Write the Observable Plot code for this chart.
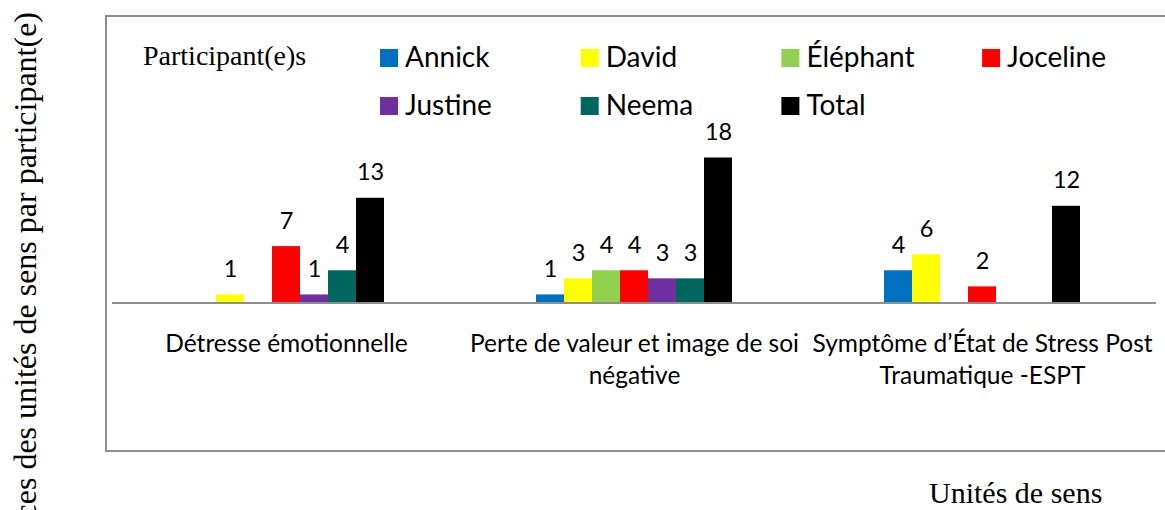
<!DOCTYPE html>
<html>
<head>
<meta charset="utf-8">
<script src="https://cdn.jsdelivr.net/npm/d3@7"></script>
<script src="https://cdn.jsdelivr.net/npm/@observablehq/plot@0.6"></script>
<style>
  html, body { margin: 0; padding: 0; background: #fff; overflow: hidden; }
  #wrap { position: relative; width: 1165px; height: 510px; overflow: hidden; background: #fff; }
  #frame { position: absolute; left: 105px; top: 15px; width: 1100px; height: 433px; border: 2px solid #8e8e8e; }
  #wrap svg { position: absolute; left: 0; top: 0; }
</style>
</head>
<body>
<div id="wrap"><div id="frame"></div></div>
<script>
const categories = [
  "Détresse émotionnelle",
  "Perte de valeur et image de soi négative",
  "Symptôme d’État de Stress Post Traumatique -ESPT"
];
const categoryTickLabels = [
  "Détresse émotionnelle",
  "Perte de valeur et image de soi\nnégative",
  "Symptôme d’État de Stress Post\nTraumatique -ESPT"
];
const participants = ["Annick", "David", "Éléphant", "Joceline", "Justine", "Neema", "Total"];
const participantColors = ["#0070C0", "#FFFF00", "#92D050", "#FF0000", "#7030A0", "#00675F", "#000000"];
const detresseValues = [0, 1, 0, 7, 1, 4, 13];
const perteValues = [1, 3, 4, 4, 3, 3, 18];
const symptomeValues = [4, 6, 0, 2, 0, 0, 12];
const legendTitle = "Participant(e)s";
const yLabel = "Fréquences des unités de sens par participant(e)";
const xLabel = "Unités de sens";

const series = [detresseValues, perteValues, symptomeValues];
const rows = [];
categories.forEach((c, ci) => participants.forEach((p, pi) => rows.push({category: c, participant: p, value: series[ci][pi]})));

const chart = Plot.plot({
  width: 1165,
  height: 510,
  marginLeft: 112,
  marginRight: 9,
  marginTop: 157.5,
  marginBottom: 207.5,
  fx: {domain: categories, padding: 0},
  x: {domain: participants, paddingInner: 0, paddingOuter: 2.714, axis: null},
  y: {domain: [0, 18], axis: null},
  color: {domain: participants, range: participantColors},
  style: {fontFamily: "Lato, 'Open Sans', sans-serif", fontSize: "23px", color: "#000", background: "transparent", overflow: "visible"},
  marks: [
    Plot.barY(rows, {fx: "category", x: "participant", y: "value", fill: "participant", filter: d => d.value > 0}),
    Plot.text(rows, {fx: "category", x: "participant", y: "value", text: d => String(d.value), filter: d => d.value > 0, lineAnchor: "bottom", dy: -18, fill: "#000", fontSize: 23.5}),
    Plot.ruleY([0], {stroke: "#8e8e8e", strokeWidth: 2}),
    Plot.axisFx({anchor: "bottom", tickSize: 0, tickPadding: 27, label: null, lineHeight: 1.29, fill: "#000", fontSize: 24.5,
      tickFormat: c => categoryTickLabels[categories.indexOf(c)]})
  ]
});
document.getElementById("wrap").appendChild(chart);

// Overlay: legend and axis titles
const ov = d3.select("#wrap").append("svg").attr("width", 1165).attr("height", 510);
ov.append("text").attr("x", 143).attr("y", 65).attr("font-family", "'Liberation Serif', 'Times New Roman', serif")
  .attr("font-size", 28).text(legendTitle);
participants.forEach((p, i) => {
  const col = i % 4, row = Math.floor(i / 4);
  const x = 380 + col * 200.7, y = 49 + row * 48;
  ov.append("rect").attr("x", x).attr("y", y).attr("width", 18).attr("height", 18).attr("fill", participantColors[i]);
  ov.append("text").attr("x", x + 25).attr("y", y + 18.3).attr("font-family", "Lato, 'Open Sans', sans-serif")
    .attr("font-size", 28).text(p);
});
ov.append("text").attr("transform", "translate(36,12) rotate(-90)").attr("text-anchor", "end")
  .attr("font-family", "'Liberation Serif', 'Times New Roman', serif").attr("font-size", 32).text(yLabel);
ov.append("text").attr("x", 929).attr("y", 503).attr("font-family", "'Liberation Serif', 'Times New Roman', serif")
  .attr("font-size", 30).text(xLabel);
</script>
</body>
</html>
